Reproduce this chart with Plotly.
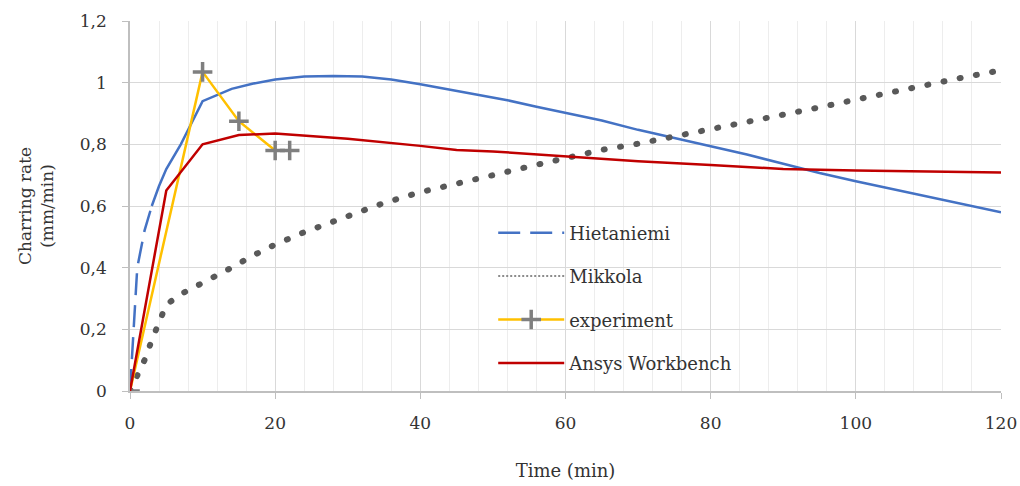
import plotly.graph_objects as go

# --- Data ---
hiet_t = [0, 0.5, 1, 2, 3, 4, 5, 7, 10, 12, 14, 17, 20, 24, 28, 32, 36, 40, 44, 48, 52, 56,
          60, 65, 70, 75, 80, 85, 90, 95, 100, 105, 110, 115, 120]
hiet_v = [0, 0.2, 0.4, 0.52, 0.6, 0.665, 0.72, 0.80, 0.94, 0.96, 0.98, 0.997, 1.01, 1.02, 1.022,
          1.02, 1.01, 0.995, 0.978, 0.962, 0.943, 0.922, 0.902, 0.877, 0.847, 0.82, 0.795,
          0.767, 0.737, 0.707, 0.68, 0.655, 0.628, 0.605, 0.58]

mikk_t = [0, 1, 2, 3, 4, 5, 7, 10, 12, 14, 17, 20, 24, 28, 30, 35, 40, 45, 50, 55, 60, 65,
          70, 75, 80, 85, 90, 95, 100, 105, 110, 115, 120]
mikk_v = [0, 0.05, 0.10, 0.165, 0.22, 0.28, 0.314, 0.35, 0.378, 0.40, 0.44, 0.475, 0.515,
          0.551, 0.565, 0.61, 0.645, 0.675, 0.70, 0.728, 0.755, 0.782, 0.802, 0.825, 0.847,
          0.87, 0.895, 0.92, 0.945, 0.97, 0.995, 1.018, 1.04]

exp_t = [0, 10, 15, 20, 22]
exp_v = [0, 1.035, 0.875, 0.78, 0.78]

ansys_t = [0, 5, 10, 15, 20, 30, 40, 45, 50, 60, 70, 80, 90, 100, 110, 120]
ansys_v = [0, 0.65, 0.80, 0.83, 0.835, 0.818, 0.795, 0.782, 0.777, 0.762, 0.745, 0.733,
           0.72, 0.715, 0.712, 0.709]

y_ticks = [0, 0.2, 0.4, 0.6, 0.8, 1.0, 1.2]
y_labels = ["0", "0,2", "0,4", "0,6", "0,8", "1", "1,2"]
x_ticks = [0, 20, 40, 60, 80, 100, 120]

FONT = "DejaVu Serif"
BLUE = "#4472C4"
GREY = "#595959"
YELLOW = "#FFC000"
RED = "#C00000"

split = hiet_t.index(3)

fig = go.Figure()
fig.add_trace(go.Scatter(x=hiet_t[:split + 1], y=hiet_v[:split + 1], mode="lines",
                         name="Hietaniemi", legendgroup="a",
                         line=dict(color=BLUE, width=2.5, dash="22px,10px")))
fig.add_trace(go.Scatter(x=hiet_t[split:], y=hiet_v[split:], mode="lines",
                         showlegend=False, legendgroup="a",
                         line=dict(color=BLUE, width=2.5)))
fig.add_trace(go.Scatter(x=mikk_t, y=mikk_v, mode="lines", showlegend=False, legendgroup="b",
                         line=dict(color=GREY, width=6, dash="1px,15.5px")))
# legend-only sample: the legend shows a fine dotted line
fig.add_trace(go.Scatter(x=[None], y=[None], mode="lines", name="Mikkola", legendgroup="b",
                         line=dict(color="#8C8C8C", width=2, dash="2px,2px")))
fig.add_trace(go.Scatter(x=exp_t, y=exp_v, mode="lines+markers", name="experiment",
                         legendgroup="c",
                         line=dict(color=YELLOW, width=2.5),
                         marker=dict(symbol="cross-thin", size=14, color="#7F7F7F",
                                     line=dict(color="#7F7F7F", width=3.5))))
fig.add_trace(go.Scatter(x=ansys_t, y=ansys_v, mode="lines", name="Ansys Workbench",
                         legendgroup="d",
                         line=dict(color=RED, width=2.5)))

fig.update_layout(
    width=1020, height=486,
    margin=dict(l=130, r=19, t=21, b=95),
    paper_bgcolor="white", plot_bgcolor="white",
    font=dict(family=FONT, size=17, color="#333333"),
    legend=dict(x=0.417, y=0.477, xanchor="left", yanchor="top",
                bgcolor="rgba(0,0,0,0)", tracegroupgap=17, itemwidth=66,
                font=dict(family=FONT, size=18, color="#333333")),
)
fig.update_xaxes(
    range=[0, 120], tickvals=x_ticks, showgrid=True, gridcolor="#D9D9D9", gridwidth=1,
    minor=dict(dtick=4, showgrid=True, gridcolor="#EDEDED", gridwidth=1),
    showline=True, linecolor="#BFBFBF", linewidth=1.5, zeroline=False, automargin=False,
    ticks="outside", ticklen=6, tickcolor="#BFBFBF", ticklabelstandoff=10,
    title=dict(text="Time (min)", font=dict(family=FONT, size=18), standoff=32),
)
fig.update_yaxes(
    range=[0, 1.2], tickvals=y_ticks, ticktext=y_labels, showgrid=True,
    gridcolor="#D9D9D9", gridwidth=1, automargin=False,
    showline=True, linecolor="#BFBFBF", linewidth=1.5, zeroline=False,
    ticks="outside", ticklen=6, tickcolor="#BFBFBF", ticklabelstandoff=12,
    title=dict(text="Charring rate<br>(mm/min)", font=dict(family=FONT, size=17), standoff=22),
)

# no page margin, and round caps so the Mikkola dashes become dots
page_js = """
document.body.style.margin = '0';
document.body.style.overflow = 'hidden';
document.querySelectorAll('path.js-line').forEach(function(p){
  if ((p.style.strokeDasharray || '').indexOf('1px') === 0) { p.style.strokeLinecap = 'round'; }
});
"""

fig.write_html("out.html", post_script=page_js, config={"displayModeBar": False})
